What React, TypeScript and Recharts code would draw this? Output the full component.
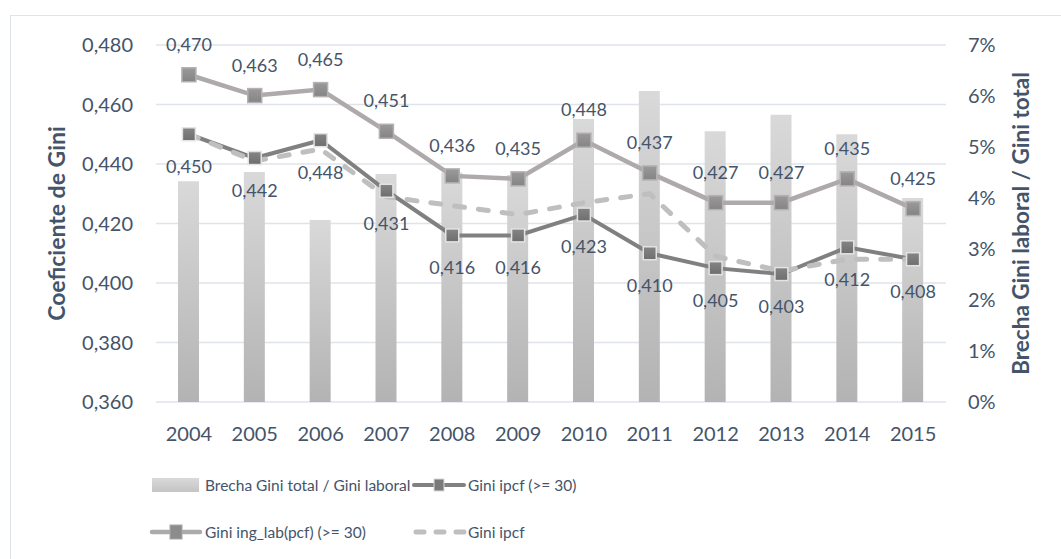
import React from 'react';
import {
  ComposedChart, Bar, Line, XAxis, YAxis, CartesianGrid, Legend, LabelList, Label,
} from 'recharts';

const years = ['2004', '2005', '2006', '2007', '2008', '2009', '2010', '2011', '2012', '2013', '2014', '2015'];
const brechaPct = [4.33, 4.51, 3.57, 4.47, 4.5, 4.45, 5.55, 6.1, 5.31, 5.63, 5.25, 4.0];
const giniIpcf30 = [0.45, 0.442, 0.448, 0.431, 0.416, 0.416, 0.423, 0.41, 0.405, 0.403, 0.412, 0.408];
const giniIngLab30 = [0.47, 0.463, 0.465, 0.451, 0.436, 0.435, 0.448, 0.437, 0.427, 0.427, 0.435, 0.425];
const giniIpcf = [0.45, 0.441, 0.445, 0.429, 0.426, 0.423, 0.427, 0.43, 0.409, 0.404, 0.408, 0.408];
const leftTicks = [0.36, 0.38, 0.4, 0.42, 0.44, 0.46, 0.48];
const rightTicks = [0, 1, 2, 3, 4, 5, 6, 7];

const data = years.map((y, i) => ({
  year: y,
  brecha: brechaPct[i],
  ipcf30: giniIpcf30[i],
  ingLab: giniIngLab30[i],
  ipcf: giniIpcf[i],
}));

const FONT = 'Lato, "Open Sans", sans-serif';
const TEXT = '#44546A';
const fmt = (v: number) => v.toFixed(3).replace('.', ',');

const SquareDot = (size: number, fill: string, stroke: string, sw: number) => (props: any) => {
  const { cx, cy, index } = props;
  if (cx == null || cy == null) return <g key={index} />;
  return (
    <rect key={index} x={cx - size / 2} y={cy - size / 2} width={size} height={size}
      fill={fill} stroke={stroke} strokeWidth={sw} />
  );
};

const LegendContent = () => {
  const row = (top: number, children: React.ReactNode) => (
    <div style={{ position: 'absolute', top, left: 0, height: 20, width: 700 }}>{children}</div>
  );
  const textStyle: React.CSSProperties = { position: 'absolute', top: 0, lineHeight: '20px', whiteSpace: 'nowrap' };
  return (
    <div style={{ position: 'relative', width: 700, height: 80, fontFamily: FONT, fontSize: 15.5, color: TEXT }}>
      {row(0, <>
        <svg style={{ position: 'absolute', left: 150, top: 0 }} width={50} height={20}>
          <rect x={2} y={3} width={47} height={14} fill="url(#legBar)" />
        </svg>
        <span style={{ ...textStyle, left: 205 }}>Brecha Gini total / Gini laboral</span>
        <svg style={{ position: 'absolute', left: 410, top: 0 }} width={58} height={20}>
          <line x1={4} y1={10} x2={54} y2={10} stroke="#808080" strokeWidth={4} strokeLinecap="round" />
          <rect x={24} y={4} width={10} height={12} fill="#7a7a7a" stroke="#d9d9d9" strokeWidth={1} />
        </svg>
        <span style={{ ...textStyle, left: 468 }}>Gini ipcf (&gt;= 30)</span>
      </>)}
      {row(47, <>
        <svg style={{ position: 'absolute', left: 148, top: 0 }} width={56} height={20}>
          <line x1={4} y1={10} x2={52} y2={10} stroke="#aeaaaa" strokeWidth={4.5} strokeLinecap="round" />
          <rect x={22} y={3} width={12} height={14} fill="#8c8c8c" stroke="#a9a9a9" strokeWidth={1} />
        </svg>
        <span style={{ ...textStyle, left: 205 }}>Gini ing_lab(pcf) (&gt;= 30)</span>
        <svg style={{ position: 'absolute', left: 410, top: 0 }} width={58} height={20}>
          <line x1={6} y1={10} x2={54} y2={10} stroke="#bfbfbf" strokeWidth={5} strokeLinecap="round" strokeDasharray="8 12" />
        </svg>
        <span style={{ ...textStyle, left: 468 }}>Gini ipcf</span>
      </>)}
      <svg width={0} height={0} style={{ position: 'absolute' }}>
        <defs>
          <linearGradient id="legBar" x1="0" y1="0" x2="0" y2="1">
            <stop offset="0%" stopColor="#d9d9d9" />
            <stop offset="100%" stopColor="#c4c4c4" />
          </linearGradient>
        </defs>
      </svg>
    </div>
  );
};

export default function App() {
  return (
    <div style={{ position: 'absolute', left: 0, top: 0, width: 1061, height: 559, overflow: 'hidden', background: '#fff' }}>
      <div style={{ position: 'absolute', left: 10, top: 15, width: 1100, height: 600, borderTop: '1.5px solid #dfe3ea', borderLeft: '1.5px solid #dfe3ea' }} />
      <div style={{ position: 'absolute', left: 0, top: 0 }}>
        <ComposedChart width={1061} height={559} data={data}
          margin={{ top: 45, right: 0, bottom: 97, left: 0 }}
          style={{ fontFamily: FONT }}>
          <defs>
            <linearGradient id="barGrad" x1="0" y1="0" x2="0" y2="1">
              <stop offset="0%" stopColor="#d9d9d9" />
              <stop offset="100%" stopColor="#b3b3b3" />
            </linearGradient>
            <linearGradient id="mkLight" x1="0" y1="0" x2="0" y2="1">
              <stop offset="0%" stopColor="#9a9a9a" />
              <stop offset="100%" stopColor="#848484" />
            </linearGradient>
            <linearGradient id="mkDark" x1="0" y1="0" x2="0" y2="1">
              <stop offset="0%" stopColor="#858585" />
              <stop offset="100%" stopColor="#6e6e6e" />
            </linearGradient>
          </defs>
          <CartesianGrid vertical={false} stroke="#dfe3ea" strokeWidth={1.5} yAxisId="left" />
          <XAxis dataKey="year" axisLine={false} tickLine={false} height={60} tickMargin={19}
            tick={{ fill: TEXT, fontSize: 20, fontFamily: FONT }} interval={0} />
          <YAxis yAxisId="left" orientation="left" domain={[0.36, 0.48]} ticks={leftTicks}
            tickFormatter={fmt} axisLine={false} tickLine={false} width={156} tickMargin={17}
            tick={{ fill: TEXT, fontSize: 20, fontFamily: FONT }}>
            <Label value="Coeficiente de Gini" angle={-90} position="center" dx={-21}
              style={{ fill: TEXT, fontSize: 23, fontWeight: 700, fontFamily: FONT }} />
          </YAxis>
          <YAxis yAxisId="right" orientation="right" domain={[0, 7]} ticks={rightTicks}
            tickFormatter={(v: number) => `${v}%`} axisLine={false} tickLine={false} width={115} tickMargin={16}
            tick={{ fill: TEXT, fontSize: 20, fontFamily: FONT, textAnchor: 'start' }}>
            <Label value="Brecha Gini laboral / Gini total" angle={-90} position="center" dx={18}
              style={{ fill: TEXT, fontSize: 22.5, fontWeight: 700, fontFamily: FONT }} />
          </YAxis>
          <Bar yAxisId="right" dataKey="brecha" name="Brecha Gini total / Gini laboral" barSize={21}
            fill="url(#barGrad)" isAnimationActive={false} />
          <Line yAxisId="left" dataKey="ipcf30" name="Gini ipcf (>= 30)" stroke="#808080" strokeWidth={4}
            dot={SquareDot(13, 'url(#mkDark)', '#e3e3e3', 1.5)} activeDot={false} isAnimationActive={false}>
            <LabelList dataKey="ipcf30" position="bottom" offset={26} formatter={(v: any) => fmt(Number(v))}
              style={{ fill: TEXT, fontSize: 18, fontFamily: FONT }} />
          </Line>
          <Line yAxisId="left" dataKey="ingLab" name="Gini ing_lab(pcf) (>= 30)" stroke="#aeaaaa" strokeWidth={4.5}
            dot={SquareDot(14, 'url(#mkLight)', '#b5b1b1', 1.5)} activeDot={false} isAnimationActive={false}>
            <LabelList dataKey="ingLab" position="top" offset={24} formatter={(v: any) => fmt(Number(v))}
              style={{ fill: TEXT, fontSize: 18, fontFamily: FONT }} />
          </Line>
          <Line yAxisId="left" dataKey="ipcf" name="Gini ipcf" stroke="#bfbfbf" strokeWidth={5}
            strokeDasharray="10 14" strokeLinecap="round" dot={false} activeDot={false} isAnimationActive={false} />
          <Legend layout="vertical" align="center" verticalAlign="middle" content={<LegendContent />}
            wrapperStyle={{ left: 0, top: 475, width: 700, height: 80, bottom: 'auto', right: 'auto' }} />
        </ComposedChart>
      </div>
    </div>
  );
}
